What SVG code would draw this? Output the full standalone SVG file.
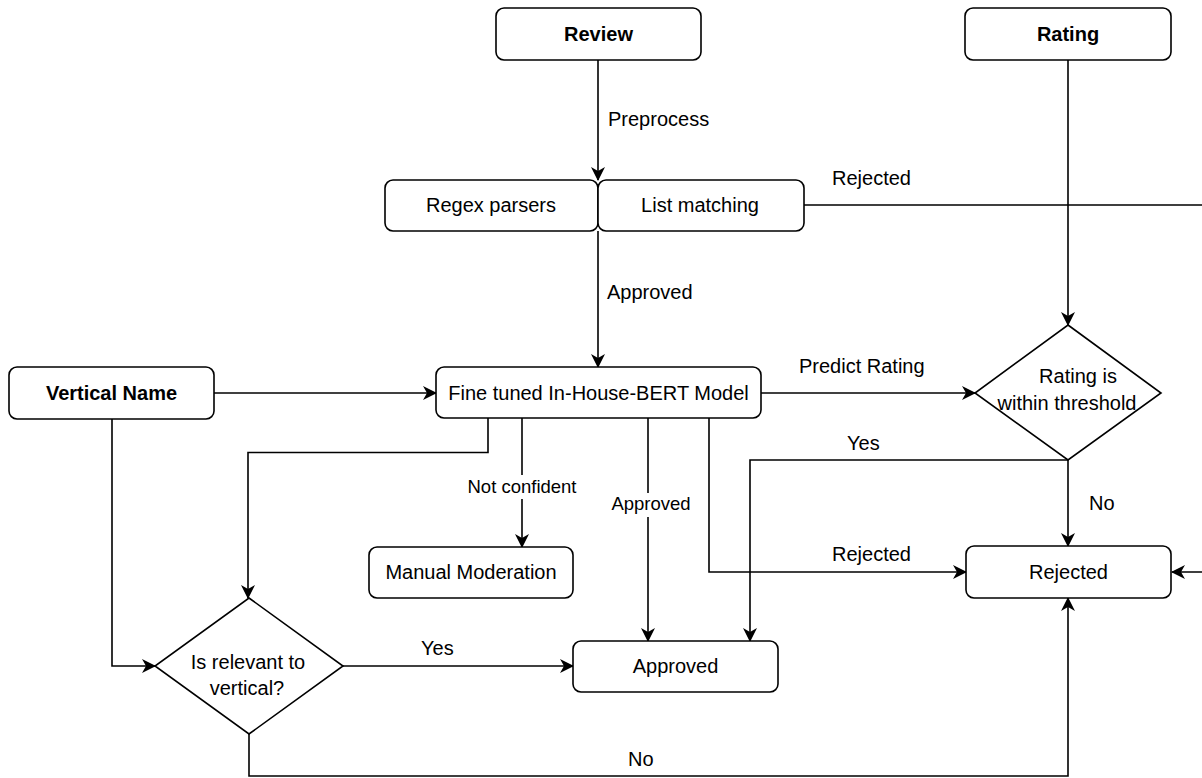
<svg xmlns="http://www.w3.org/2000/svg" width="1202" height="778" viewBox="0 0 1202 778">
<style>
  .box { fill: #ffffff; stroke: #000000; stroke-width: 1.6; }
  .edge { fill: none; stroke: #000000; stroke-width: 1.6; marker-end: url(#arrow); }
  .t { font-family: "Liberation Sans", Arial, Helvetica, sans-serif; font-size: 20px; fill: #000000; }
  .b { font-weight: bold; }
  .s { font-size: 18.5px; }
  .m { text-anchor: middle; }
  .lbl { fill: #ffffff; stroke: none; }
</style>
<defs>
  <marker id="arrow" viewBox="0 0 14 14" refX="13" refY="7" markerWidth="14" markerHeight="14" markerUnits="userSpaceOnUse" orient="auto">
    <path d="M0,0 L14,7 L0,14 L4,7 Z" fill="#000000"/>
  </marker>
</defs>
<rect width="1202" height="778" fill="#ffffff"/>

<g id="connectors">
  <path class="edge" d="M598,60 V180"/>
  <path class="edge" d="M804,205 H1215 V572 H1172"/>
  <path class="edge" d="M1068,60 V325"/>
  <path class="edge" d="M598,231 V367"/>
  <path class="edge" d="M214,393 H436"/>
  <path class="edge" d="M761,393 H975"/>
  <path class="edge" d="M488,418 V452.5 H248 V598"/>
  <path class="edge" d="M522,418 V547"/>
  <path class="edge" d="M648,418 V641"/>
  <path class="edge" d="M709,418 V572 H966"/>
  <path class="edge" d="M1068,460 H750 V641"/>
  <path class="edge" d="M1068,460 V546"/>
  <path class="edge" d="M112,419 V666 H155"/>
  <path class="edge" d="M343,666 H573"/>
  <path class="edge" d="M249,734 V776 H1068 V598"/>
  <rect class="lbl" x="466" y="475" width="112" height="24"/>
  <rect class="lbl" x="611" y="493" width="82" height="24"/>
  <text class="t" x="608" y="126">Preprocess</text>
  <text class="t" x="832" y="185">Rejected</text>
  <text class="t" x="607" y="299">Approved</text>
  <text class="t" x="799" y="373">Predict Rating</text>
  <text class="t" x="847" y="450">Yes</text>
  <text class="t" x="1089" y="510">No</text>
  <text class="t" x="832" y="561">Rejected</text>
  <text class="t s m" x="522" y="493">Not confident</text>
  <text class="t s m" x="651" y="510">Approved</text>
  <text class="t" x="421" y="655">Yes</text>
  <text class="t" x="628" y="766">No</text>
</g>

<g id="review">
  <rect class="box" x="496" y="8" width="205" height="52" rx="8"/>
  <text class="t b m" x="598.5" y="41">Review</text>
</g>
<g id="rating">
  <rect class="box" x="965" y="8" width="206" height="52" rx="8"/>
  <text class="t b m" x="1068" y="41">Rating</text>
</g>
<g id="regex-parsers">
  <rect class="box" x="385" y="180" width="213" height="51" rx="8"/>
  <text class="t m" x="491" y="212">Regex parsers</text>
</g>
<g id="list-matching">
  <rect class="box" x="598" y="180" width="206" height="51" rx="8"/>
  <text class="t m" x="700" y="212">List matching</text>
</g>
<g id="vertical-name">
  <rect class="box" x="9" y="367" width="205" height="52" rx="8"/>
  <text class="t b m" x="111.5" y="400">Vertical Name</text>
</g>
<g id="bert-model">
  <rect class="box" x="436" y="367" width="325" height="51" rx="8"/>
  <text class="t m" x="598.5" y="400">Fine tuned In-House-BERT Model</text>
</g>
<g id="rating-threshold">
  <polygon class="box" points="1068,325 1161,393 1068,460 975,393"/>
  <text class="t m" x="1078" y="383">Rating is</text>
  <text class="t m" x="1067" y="410">within threshold</text>
</g>
<g id="manual-moderation">
  <rect class="box" x="369" y="547" width="204" height="51" rx="8"/>
  <text class="t m" x="471" y="579">Manual Moderation</text>
</g>
<g id="rejected">
  <rect class="box" x="966" y="546" width="205" height="52" rx="8"/>
  <text class="t m" x="1068.5" y="579">Rejected</text>
</g>
<g id="is-relevant">
  <polygon class="box" points="249,598 343,666 249,734 155,666"/>
  <text class="t m" x="248" y="669">Is relevant to</text>
  <text class="t m" x="247" y="695">vertical?</text>
</g>
<g id="approved">
  <rect class="box" x="573" y="641" width="205" height="51" rx="8"/>
  <text class="t m" x="675.5" y="673">Approved</text>
</g>
</svg>
